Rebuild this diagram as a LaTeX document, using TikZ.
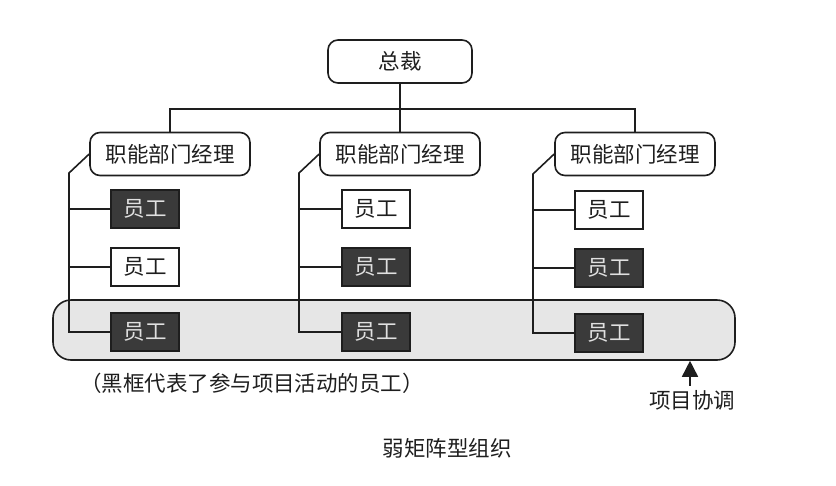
\documentclass[tikz,border=0pt]{standalone}
\usepackage{fontspec}
\newfontfamily\cjk{Noto Sans CJK SC}
\usetikzlibrary{arrows.meta}
\definecolor{darkbox}{HTML}{3A3A3A}
\definecolor{bandgray}{HTML}{E6E6E6}
\definecolor{linecol}{HTML}{1E1E1E}
\begin{document}
\begin{tikzpicture}[x=1pt,y=-1pt, line width=1.6pt, draw=linecol,
  txt/.style={font=\cjk\fontsize{21.5}{25}\selectfont, text=linecol},
  mgr/.style={txt, draw=linecol, rounded corners=10pt, minimum width=160pt, minimum height=43pt, fill=white, inner sep=0pt},
  emp/.style={txt, draw=linecol, minimum width=68pt, minimum height=38pt, fill=white, inner sep=0pt},
  act/.style={emp, fill=darkbox, text=white!88!black},
  band/.style={draw=linecol, rounded corners=18pt, fill=bandgray, minimum width=682pt, minimum height=60pt, inner sep=0pt},
  link/.style={draw=linecol, line width=1.6pt}]
\useasboundingbox (0,0) rectangle (836,485);

% project band (behind)
\node[band] (band) at (394,330) {};

% president
\node[mgr, minimum width=144pt, minimum height=43pt] (ceo) at (400,61.5) {总裁};

% managers
\node[mgr] (m1) at (170,154) {职能部门经理};
\node[mgr] (m2) at (400,154) {职能部门经理};
\node[mgr] (m3) at (635,154) {职能部门经理};

% top connectors
\coordinate (hy) at (400,109);
\draw[link] (ceo.south) -- (m2.north);
\draw[link] (m1.north) -- (m1.north |- hy) -- (m3.north |- hy) -- (m3.north);

% employees
\node[act] (e11) at (145,209) {员工};
\node[emp] (e12) at (145,267) {员工};
\node[act] (e13) at (145,332) {员工};
\node[emp] (e21) at (376,209) {员工};
\node[act] (e22) at (376,267) {员工};
\node[act] (e23) at (376,332) {员工};
\node[emp] (e31) at (609,210) {员工};
\node[act] (e32) at (609,268) {员工};
\node[act] (e33) at (609,333) {员工};

% trunks
\coordinate (t1) at (69,173);
\coordinate (t2) at (299,173);
\coordinate (t3) at (533,174);
\draw[link] (m1.west) -- (t1) -- (t1 |- e13.west) -- (e13.west);
\draw[link] (t1 |- e11.west) -- (e11.west);
\draw[link] (t1 |- e12.west) -- (e12.west);
\draw[link] (m2.west) -- (t2) -- (t2 |- e23.west) -- (e23.west);
\draw[link] (t2 |- e21.west) -- (e21.west);
\draw[link] (t2 |- e22.west) -- (e22.west);
\draw[link] (m3.west) -- (t3) -- (t3 |- e33.west) -- (e33.west);
\draw[link] (t3 |- e31.west) -- (e31.west);
\draw[link] (t3 |- e32.west) -- (e32.west);

% notes
\node[txt] (note) at (252,383) {（黑框代表了参与项目活动的员工）};
\node[txt] (coord) at (692,400) {项目协调};
\coordinate (ax) at (690,0);
\draw[link, -{Triangle[length=16pt,width=16pt]}] (ax |- coord.north) -- (ax |- band.south);
\node[txt] (cap) at (447,448) {弱矩阵型组织};
\end{tikzpicture}
\end{document}
